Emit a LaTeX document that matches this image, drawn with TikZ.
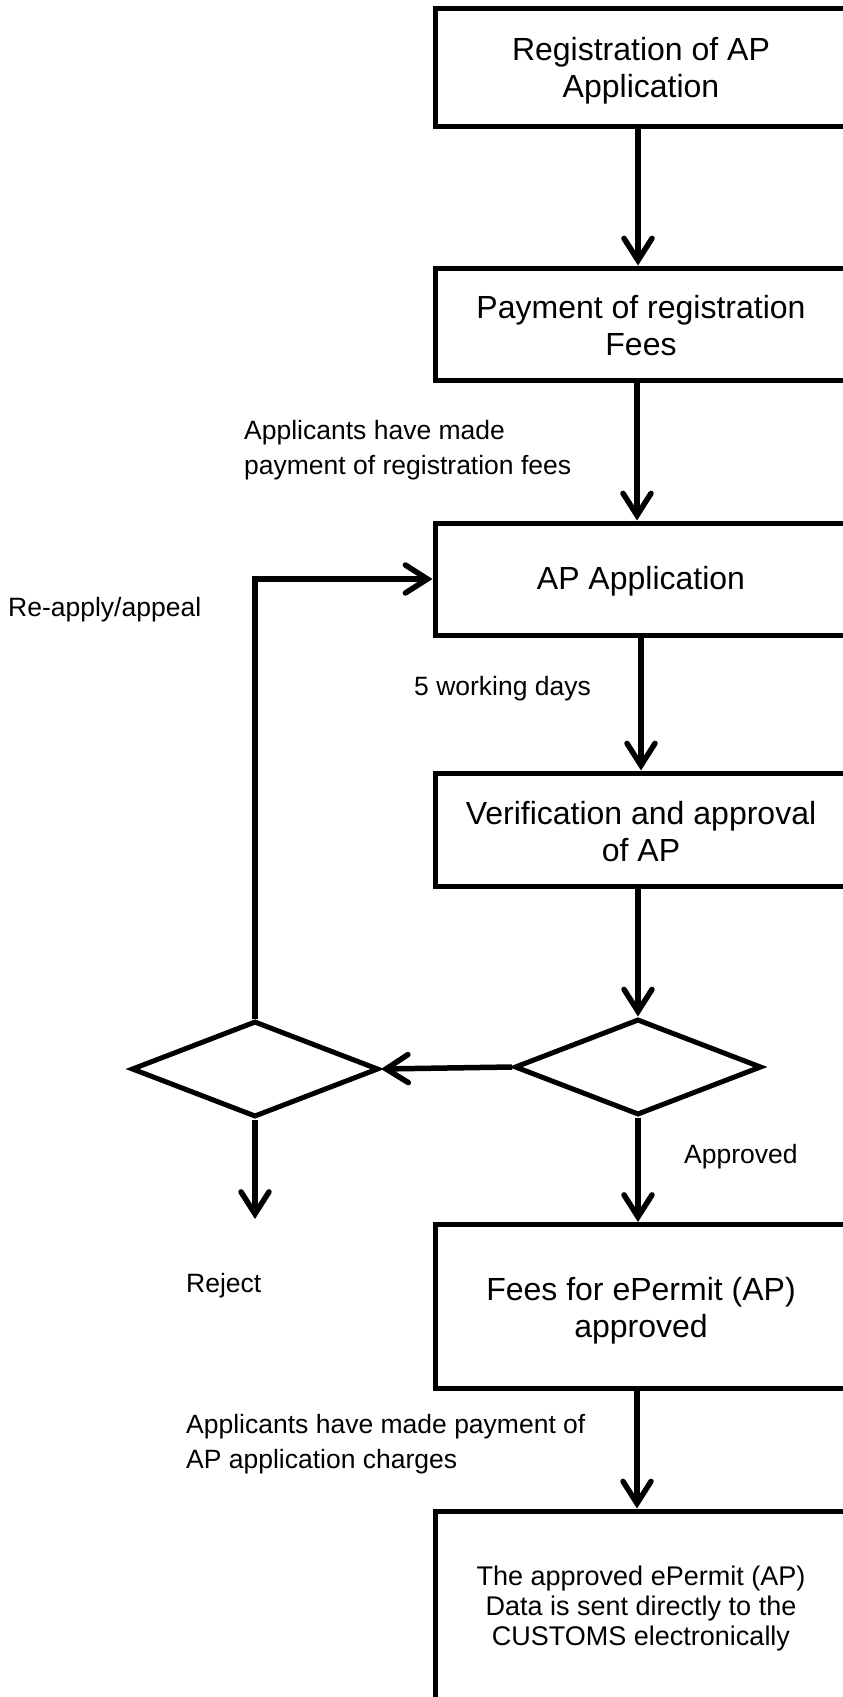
\documentclass[tikz,border=0pt]{standalone}
\usepackage{fontspec}
\setmainfont{Liberation Sans}
\usetikzlibrary{arrows.meta,shapes.geometric}
\tikzset{
  box/.style={draw, line width=5pt, rectangle, minimum width=412pt, inner sep=0pt},
  boxtext/.style={align=center, inner sep=0pt, font=\fontsize{32pt}{37pt}\selectfont},
  smalltext/.style={align=center, inner sep=0pt, font=\fontsize{27pt}{30pt}\selectfont},
  dec/.style={draw, line width=5pt, diamond, minimum width=247pt, minimum height=96pt, inner sep=0pt},
  lbl/.style={anchor=west, align=left, inner sep=0pt, font=\fontsize{26.5pt}{35pt}\selectfont},
  arr/.style={line width=5.5pt, -{Straight Barb[length=22pt,width=28pt,line cap=round]}},
}
\begin{document}
\begin{tikzpicture}[x=1pt,y=-1pt]
\useasboundingbox (0,0) rectangle (843,1697);
\clip (0,0) rectangle (843,1697);
\fill[white] (0,0) rectangle (843,1697);
% boxes
\node[box, minimum height=118pt] (b1) at (641,67) {};
\node[boxtext] (t1) at (641,71) {Registration of AP\\Application};
\node[box, minimum height=112pt] (b2) at (641,324) {};
\node[boxtext] (t2) at (641,326) {Payment of registration\\Fees};
\node[box, minimum height=112pt] (b3) at (641,579) {};
\node[boxtext] (t3) at (641,581) {AP Application};
\node[box, minimum height=113pt] (b4) at (641,829.5) {};
\node[boxtext] (t4) at (641,832) {Verification and approval\\of AP};
\node[box, minimum height=164pt] (b5) at (641,1306.5) {};
\node[boxtext] (t5) at (641,1311) {Fees for ePermit (AP)\\approved};
\node[box, minimum height=192pt] (b6) at (641,1607) {};
\node[smalltext] (t6) at (641,1608) {The approved ePermit (AP)\\Data is sent directly to the\\CUSTOMS electronically};
% decisions
\node[dec] (d1) at (638,1067) {};
\node[dec] (d2) at (255,1069) {};
\coordinate (rej) at (255,1219);
% connectors
\draw[arr] (b1.south -| 638,0) -- (b2.north -| 638,0);
\draw[arr] (b2.south -| 637,0) -- (b3.north -| 637,0);
\draw[arr] (b3.south) -- (b4.north);
\draw[arr] (b4.south -| d1.north) -- (d1.north);
\draw[arr] (d1.west) -- (d2.east);
\draw[arr] (d1.south) -- (d1.south |- b5.north);
\draw[arr] (d2.south) -- (rej);
\draw[arr] (d2.north) |- (b3.west);
\draw[arr] (b5.south -| 637,0) -- (b6.north -| 637,0);
% labels
\node[lbl] (l1) at (244,450.5) {Applicants have made\\payment of registration fees};
\node[lbl] (l2) at (8,610) {Re-apply/appeal};
\node[lbl] (l3) at (414,689) {5 working days};
\node[lbl] (l4) at (684,1157) {Approved};
\node[lbl] (l5) at (186,1285.5) {Reject};
\node[lbl] (l6) at (186,1444.5) {Applicants have made payment of\\AP application charges};
\end{tikzpicture}
\end{document}
